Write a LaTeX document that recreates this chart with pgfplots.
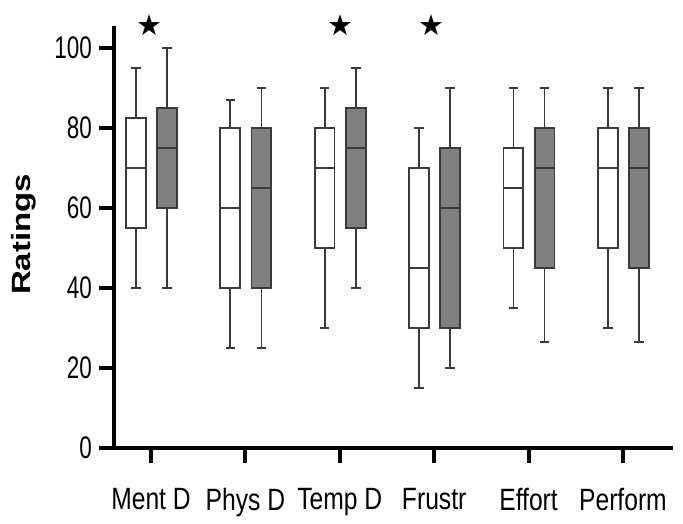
\documentclass[border=0pt]{standalone}
\usepackage{fontspec}
\setmainfont{Liberation Sans}[FakeStretch=0.8]
\newfontfamily\ytickfont{Liberation Sans}[FakeStretch=0.72]
\newfontfamily\ylabfont{Liberation Sans}
\newfontfamily\symbfont{DejaVu Sans}
\usepackage{graphicx}
\usepackage{pgfplots}
\usepgfplotslibrary{statistics}
\pgfplotsset{compat=1.18}

\definecolor{boxgray}{HTML}{808080}
\definecolor{whisk}{HTML}{3A3A3A}

\pgfplotsset{
  wbox/.style={solid, draw=whisk, line width=0.9pt, fill=white,
    boxplot/box extend=0.21, boxplot/whisker extend=0.1},
  gbox/.style={solid, draw=whisk, line width=0.9pt, fill=boxgray,
    boxplot/box extend=0.21, boxplot/whisker extend=0.1},
}

\begin{document}
\begin{tikzpicture}
\begin{axis}[
    scale only axis,
    width=279.5pt, height=211pt,
    xmin=0.608, xmax=6.53,
    ymin=0, ymax=105.5,
    axis lines*=left,
    axis line style={line width=2pt, black},
    tick align=outside,
    major tick length=7.5pt,
    tick style={line width=2pt, black},
    xtick={1,2,3,4,5,6},
    xticklabels={Ment D, Phys D, Temp D, Frustr, Effort, Perform},
    ytick={0,20,40,60,80,100},
    /pgf/number format/assume math mode=true,
    xticklabel style={font=\fontsize{15.4}{18}\selectfont, yshift=-9pt},
    yticklabel style={font=\ytickfont\fontsize{15.6}{18}\selectfont},
    ylabel={\scalebox{1}[0.8]{\ylabfont\bfseries\fontsize{16.5}{20}\selectfont Ratings}},
    ylabel style={at={(axis description cs:-0.161,0.506)}, anchor=center},
    clip=false,
    boxplot/draw direction=y,
]
% bounding box matching the reference frame
\path (axis description cs:-0.204,-0.1635) rectangle (axis description cs:1.018,1.0616);

% Ment D
\addplot[wbox, boxplot prepared={draw position=0.84, lower whisker=40, lower quartile=55, median=70, upper quartile=82.5, upper whisker=95}] coordinates {};
\addplot[gbox, boxplot prepared={draw position=1.17, lower whisker=40, lower quartile=60, median=75, upper quartile=85, upper whisker=100}] coordinates {};
% Phys D
\addplot[wbox, boxplot prepared={draw position=1.84, lower whisker=25, lower quartile=40, median=60, upper quartile=80, upper whisker=87}] coordinates {};
\addplot[gbox, boxplot prepared={draw position=2.17, lower whisker=25, lower quartile=40, median=65, upper quartile=80, upper whisker=90}] coordinates {};
% Temp D
\addplot[wbox, boxplot prepared={draw position=2.84, lower whisker=30, lower quartile=50, median=70, upper quartile=80, upper whisker=90}] coordinates {};
\addplot[gbox, boxplot prepared={draw position=3.17, lower whisker=40, lower quartile=55, median=75, upper quartile=85, upper whisker=95}] coordinates {};
% Frustr
\addplot[wbox, boxplot prepared={draw position=3.84, lower whisker=15, lower quartile=30, median=45, upper quartile=70, upper whisker=80}] coordinates {};
\addplot[gbox, boxplot prepared={draw position=4.17, lower whisker=20, lower quartile=30, median=60, upper quartile=75, upper whisker=90}] coordinates {};
% Effort
\addplot[wbox, boxplot prepared={draw position=4.84, lower whisker=35, lower quartile=50, median=65, upper quartile=75, upper whisker=90}] coordinates {};
\addplot[gbox, boxplot prepared={draw position=5.17, lower whisker=26.5, lower quartile=45, median=70, upper quartile=80, upper whisker=90}] coordinates {};
% Perform
\addplot[wbox, boxplot prepared={draw position=5.84, lower whisker=30, lower quartile=50, median=70, upper quartile=80, upper whisker=90}] coordinates {};
\addplot[gbox, boxplot prepared={draw position=6.17, lower whisker=26.5, lower quartile=45, median=70, upper quartile=80, upper whisker=90}] coordinates {};

% significance stars
\addplot[only marks, black, mark=text, text mark={\symbfont\fontsize{14.5}{16}\selectfont ★}]
  coordinates {(0.98,105.75) (3.01,105.75) (3.97,105.75)};
\end{axis}
\end{tikzpicture}
\end{document}
